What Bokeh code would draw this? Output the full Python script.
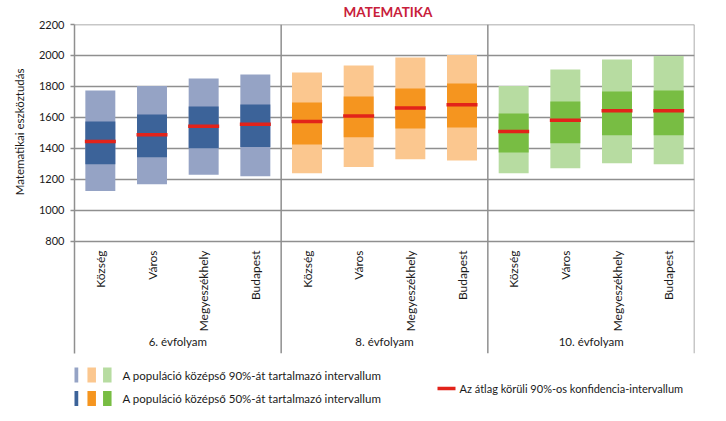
import math
from bokeh.plotting import figure
from bokeh.models import ColumnDataSource, FactorRange, Range1d, FixedTicker, Span, Title
from bokeh.layouts import column
from bokeh.embed import file_html
from bokeh.resources import INLINE
from bokeh.core.properties import value

# ---------------- data ----------------
title_text = "MATEMATIKA"
y_label = "Matematikai eszköztudás"
grades = ["6. évfolyam", "8. évfolyam", "10. évfolyam"]
settlements = ["Község", "Város", "Megyeszékhely", "Budapest"]
y_ticks = [800, 1000, 1200, 1400, 1600, 1800, 2000, 2200]

# percentiles 5 / 25 / mean / 75 / 95 per grade, per settlement type
g6_p5 = [1125, 1170, 1230, 1221]
g6_p25 = [1299, 1344, 1402, 1409]
g6_mean = [1445, 1488, 1544, 1557]
g6_p75 = [1574, 1619, 1671, 1684]
g6_p95 = [1774, 1804, 1852, 1877]

g8_p5 = [1241, 1280, 1331, 1323]
g8_p25 = [1426, 1473, 1529, 1535]
g8_mean = [1574, 1609, 1662, 1682]
g8_p75 = [1697, 1735, 1787, 1819]
g8_p95 = [1890, 1935, 1987, 2004]

g10_p5 = [1241, 1273, 1305, 1299]
g10_p25 = [1374, 1434, 1486, 1486]
g10_mean = [1510, 1583, 1643, 1643]
g10_p75 = [1626, 1703, 1768, 1774]
g10_p95 = [1804, 1910, 1974, 1996]

legend_90 = "A populáció középső 90%-át tartalmazó intervallum"
legend_50 = "A populáció középső 50%-át tartalmazó intervallum"
legend_mean = "Az átlag körüli 90%-os konfidencia-intervallum"

# ---------------- styles ----------------
light_colors = ["#95a3c5", "#fbc78f", "#b7dca1"]
dark_colors = ["#3c6399", "#f5951f", "#78bd43"]
mean_color = "#e2231a"
grid_color = "#8f8f8f"
text_color = "#1a1a1a"
FONT = "Lato"

# ---------------- assemble ----------------
p5s = [g6_p5, g8_p5, g10_p5]
p25s = [g6_p25, g8_p25, g10_p25]
means = [g6_mean, g8_mean, g10_mean]
p75s = [g6_p75, g8_p75, g10_p75]
p95s = [g6_p95, g8_p95, g10_p95]

xs, lo90, hi90, lo50, hi50, mn, lc, dc, lab = [], [], [], [], [], [], [], [], []
for gi, g in enumerate(grades):
    for si, s in enumerate(settlements):
        xs.append((g, s))
        lo90.append(p5s[gi][si]); hi90.append(p95s[gi][si])
        lo50.append(p25s[gi][si]); hi50.append(p75s[gi][si])
        mn.append(means[gi][si])
        lc.append(light_colors[gi]); dc.append(dark_colors[gi])
        lab.append(s)

src = ColumnDataSource(dict(x=xs, lo90=lo90, hi90=hi90, lo50=lo50, hi50=hi50,
                            mean=mn, lc=lc, dc=dc, lab=lab))

p = figure(width=710, height=358,
           x_range=FactorRange(*xs, factor_padding=0, group_padding=0,
                               subgroup_padding=0, range_padding=0),
           y_range=Range1d(77.4, 2200),
           x_axis_location=None,
           output_backend="svg", toolbar_location=None,
           min_border_left=74, min_border_right=16, min_border_top=24,
           min_border_bottom=5)
p.outline_line_color = None
p.background_fill_color = "white"
p.border_fill_color = "white"

p.title.text = title_text
p.title.align = "left"
p.title.offset = 269
p.title.vertical_align = "top"
p.title.standoff = 6
p.title.text_font = FONT
p.title.text_font_size = "13.5px"
p.title.text_font_style = "bold"
p.title.text_color = "#c8203a"

p.add_layout(Title(text=y_label, align="right", offset=44, standoff=20,
                   text_font=FONT, text_font_size="11.5px", text_font_style="normal",
                   text_color=text_color), "left")

p.yaxis.ticker = FixedTicker(ticks=y_ticks)
p.yaxis.minor_tick_line_color = None
p.yaxis.major_tick_in = 0
p.yaxis.major_tick_out = 4
p.yaxis.axis_line_color = grid_color
p.yaxis.axis_line_width = 1.5
p.yaxis.major_tick_line_color = grid_color
p.yaxis.major_tick_line_width = 1.5
p.yaxis.major_label_text_font = FONT
p.yaxis.major_label_text_font_size = "11px"
p.yaxis.major_label_text_color = text_color
p.yaxis.major_label_standoff = 6

p.xgrid.visible = False
p.ygrid.grid_line_color = grid_color
p.ygrid.grid_line_width = 1.5

p.vbar(x="x", bottom="lo90", top="hi90", width=0.58, fill_color="lc",
       line_color=None, source=src)
p.vbar(x="x", bottom="lo50", top="hi50", width=0.58, fill_color="dc",
       line_color=None, source=src)
p.rect(x="x", y="mean", width=0.6, height=3.5, height_units="screen",
       fill_color=mean_color, line_color=None, source=src)

# group separators
for loc in [4, 8, 12]:
    p.add_layout(Span(location=loc, dimension="height", line_color=grid_color,
                      line_width=1.5))
p.add_layout(Span(location=2200, dimension="width", line_color=grid_color,
                  line_width=1.5))

# category labels
p.text(x="x", y=742, text="lab", angle=math.pi / 2, text_align="right",
       text_baseline="middle", text_font=value(FONT), text_font_size="12px",
       text_color=text_color, source=src)
# group labels
gsrc = ColumnDataSource(dict(x=grades, t=grades))
p.text(x="x", y=155, text="t", text_align="center", text_baseline="middle",
       text_font=value(FONT), text_font_size="11.5px", text_color=text_color,
       source=gsrc)

# ---------------- legend strip (frame aligned with the chart above) ----------------
q = figure(width=710, height=55, x_range=Range1d(74, 694), y_range=Range1d(55, 0),
           x_axis_location=None, y_axis_location=None,
           output_backend="svg", toolbar_location=None,
           min_border=0)
q.outline_line_color = None
q.grid.visible = False

sw_x = [73.5, 91.2, 106.8]
q.rect(x=sw_x, y=[16.5] * 3, width=8.5, height=15, fill_color=light_colors, line_color=None)
q.rect(x=sw_x, y=[40] * 3, width=8.5, height=15, fill_color=dark_colors, line_color=None)
q.rect(x=[446], y=[30], width=18, height=3.5, fill_color=mean_color, line_color=None)
q.text(x=[122, 122], y=[16.5, 40], text=[legend_90, legend_50],
       text_align="left", text_baseline="middle", text_font=value(FONT),
       text_font_size="11.5px", text_color=text_color)
q.text(x=[459], y=[30], text=[legend_mean],
       text_align="left", text_baseline="middle", text_font=value(FONT),
       text_font_size="11px", text_color=text_color)

layout = column(p, q)
open("out.html", "w").write(file_html(layout, INLINE))
